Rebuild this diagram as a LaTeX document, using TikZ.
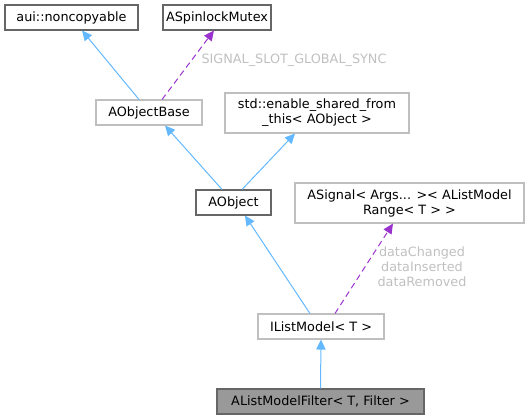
\documentclass[tikz,border=0pt]{standalone}
\usepackage{fontspec}
\setmainfont{DejaVu Sans}
\usepackage{xcolor}
\definecolor{colDark}{HTML}{666666}
\definecolor{colLight}{HTML}{BFBFBF}
\definecolor{colInh}{HTML}{63B8FF}
\definecolor{colUse}{HTML}{9A32CD}
\definecolor{colLbl}{HTML}{C0C0C0}
\definecolor{colSel}{HTML}{999999}
\usepackage{tikz}
\usetikzlibrary{arrows.meta}

\begin{document}
\begin{tikzpicture}[x=0.75pt, y=-0.75pt,
		every node/.style={font=\fontsize{9.6}{11.25}\selectfont, inner sep=0pt, align=center},
		cls/.style={draw=colLight, line width=0.8pt, minimum height=18.75pt},
		clsdoc/.style={cls, draw=colDark},
		inh/.style={colInh, line width=0.75pt, -{Triangle[length=7.5pt, width=7pt]}},
		use/.style={colUse, line width=0.75pt, dashed, dash pattern=on 4.5pt off 3pt, -{Triangle[length=7.5pt, width=7pt]}},
		lbl/.style={text=colLbl}]
	\useasboundingbox (0,0) rectangle (529,420);
	% classes
	\node[clsdoc, minimum width=99.75pt] (nc) at (71.5,17.5) {aui::noncopyable};
	\node[clsdoc, minimum width=81pt] (mutex) at (217,17.5) {ASpinlockMutex};
	\node[cls, minimum width=79.5pt] (base) at (149,112.5) {AObjectBase};
	\node[cls, minimum width=138pt, minimum height=30pt] (esft) at (317,113) {std::enable\_shared\_from\\\_this< AObject >};
	\node[clsdoc, minimum width=56.25pt] (aobj) at (233.5,202.5) {AObject};
	\node[cls, minimum width=171.75pt, minimum height=30pt] (sig) at (409.5,203) {ASignal< Args... >< AListModel\\Range< T > >};
	\node[cls, minimum width=94.5pt] (ilm) at (321,326.5) {IListModel< T >};
	\node[clsdoc, fill=colSel, minimum width=155.25pt] (filter) at (320.5,401.5) {AListModelFilter< T, Filter >};
	% inheritance
	\draw[inh] ([xshift=-7.5pt]base.north) -- ([xshift=7.9pt]nc.south);
	\draw[inh] ([xshift=-8.6pt]aobj.north) -- ([xshift=12pt]base.south);
	\draw[inh] ([xshift=6.4pt]aobj.north) -- ([xshift=-16.5pt]esft.south);
	\draw[inh] ([xshift=-8.3pt]ilm.north) -- ([xshift=8.6pt]aobj.south);
	\draw[inh] (filter.north) -- (ilm.south);
	% usage
	\draw[use] ([xshift=9.8pt]base.north) -- ([xshift=-2.3pt]mutex.south);
	\node[lbl] (lsync) at (294,60) {SIGNAL\_SLOT\_GLOBAL\_SYNC};
	\draw[use] ([xshift=10.5pt]ilm.north) -- ([xshift=-12.4pt]sig.south);
	\node[lbl] (ldata) at (422,267) {dataChanged\\dataInserted\\dataRemoved};
\end{tikzpicture}
\end{document}
